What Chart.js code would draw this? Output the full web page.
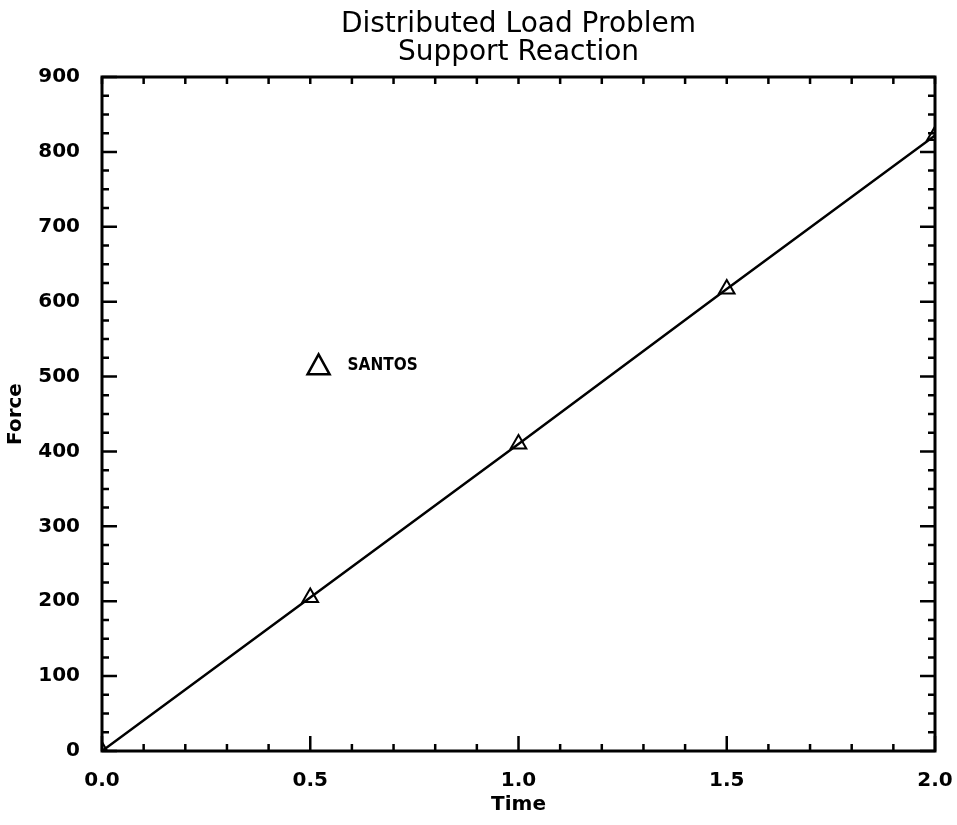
<!DOCTYPE html>
<html>
<head>
<meta charset="utf-8">
<script src="https://cdn.jsdelivr.net/npm/chart.js@4.4.0/dist/chart.umd.min.js"></script>
<style>
  html, body { margin: 0; padding: 0; background: #fff; }
  #wrap { width: 957px; height: 825px; }
</style>
</head>
<body>
<div id="wrap"><canvas id="chart" width="957" height="825"></canvas></div>
<script>
// values
const timeValues = [0.0, 0.5, 1.0, 1.5, 2.0];
const forceValues = [0, 205, 410, 617, 822];
const seriesName = 'SANTOS';
const legendAt = { x: 0.52, y: 515 };

const frameTicks = {
  id: 'frameTicks',
  afterDraw(chart) {
    const { ctx, chartArea: a, scales: { x, y } } = chart;
    ctx.save();
    ctx.strokeStyle = '#000';
    ctx.lineWidth = 3;
    ctx.strokeRect(a.left, a.top, a.right - a.left, a.bottom - a.top);
    ctx.lineWidth = 2.5;
    ctx.beginPath();
    for (let i = 0; i <= 20; i++) {
      const px = x.getPixelForValue(i * 0.1);
      const len = i % 5 === 0 ? 15 : 7;
      ctx.moveTo(px, a.bottom); ctx.lineTo(px, a.bottom - len);
      ctx.moveTo(px, a.top); ctx.lineTo(px, a.top + 7);
    }
    for (let i = 0; i <= 36; i++) {
      const py = y.getPixelForValue(i * 25);
      const len = i % 4 === 0 ? 15 : 7;
      ctx.moveTo(a.left, py); ctx.lineTo(a.left + len, py);
      ctx.moveTo(a.right, py); ctx.lineTo(a.right - len, py);
    }
    ctx.stroke();

    // legend entry inside the plot
    const lx = x.getPixelForValue(legendAt.x);
    const ly = y.getPixelForValue(legendAt.y);
    ctx.lineWidth = 2.5;
    ctx.beginPath();
    ctx.moveTo(lx, ly - 11);
    ctx.lineTo(lx + 11, ly + 9);
    ctx.lineTo(lx - 11, ly + 9);
    ctx.closePath();
    ctx.stroke();
    ctx.fillStyle = '#000';
    ctx.font = 'bold 17px "DejaVu Sans Condensed", "Liberation Sans Narrow", sans-serif';
    ctx.textBaseline = 'middle';
    ctx.fillText(seriesName, lx + 29, ly);
    ctx.restore();
  }
};

const tickFont = { family: 'DejaVu Sans', size: 20, weight: 'bold' };

new Chart(document.getElementById('chart'), {
  type: 'scatter',
  data: {
    datasets: [{
      label: seriesName,
      data: timeValues.map((t, i) => ({ x: t, y: forceValues[i] })),
      showLine: true,
      borderColor: '#000',
      borderWidth: 2.5,
      pointStyle: 'triangle',
      pointRadius: 9,
      pointBorderWidth: 2,
      pointBackgroundColor: 'rgba(0,0,0,0)',
      pointBorderColor: '#000'
    }]
  },
  options: {
    responsive: false,
    animation: false,
    layout: { padding: { left: 0, right: 22, top: 0, bottom: 4 } },
    scales: {
      x: {
        type: 'linear',
        min: 0, max: 2,
        grid: { display: false },
        border: { display: false },
        afterFit: s => { s.height = 70; s.paddingRight = 0; s.paddingLeft = 0; },
        ticks: {
          stepSize: 0.5,
          padding: 10,
          color: '#000',
          font: tickFont,
          callback: v => v.toFixed(1)
        },
        title: {
          display: true, text: 'Time', color: '#000',
          font: tickFont,
          padding: { top: 2 }
        }
      },
      y: {
        min: 0, max: 900,
        grid: { display: false },
        border: { display: false },
        afterFit: s => { s.width = 102; },
        ticks: {
          stepSize: 100,
          padding: 14,
          color: '#000',
          font: tickFont
        },
        title: {
          display: true, text: 'Force', color: '#000',
          font: tickFont,
          padding: { bottom: 0 }
        }
      }
    },
    plugins: {
      legend: { display: false },
      tooltip: { enabled: false },
      title: {
        display: true,
        fullSize: false,
        text: ['Distributed Load Problem', 'Support Reaction'],
        color: '#000',
        font: { family: 'DejaVu Sans', size: 28, weight: 'normal', lineHeight: 1.0 },
        padding: { top: 11, bottom: 10 }
      }
    }
  },
  plugins: [frameTicks]
});
</script>
</body>
</html>
